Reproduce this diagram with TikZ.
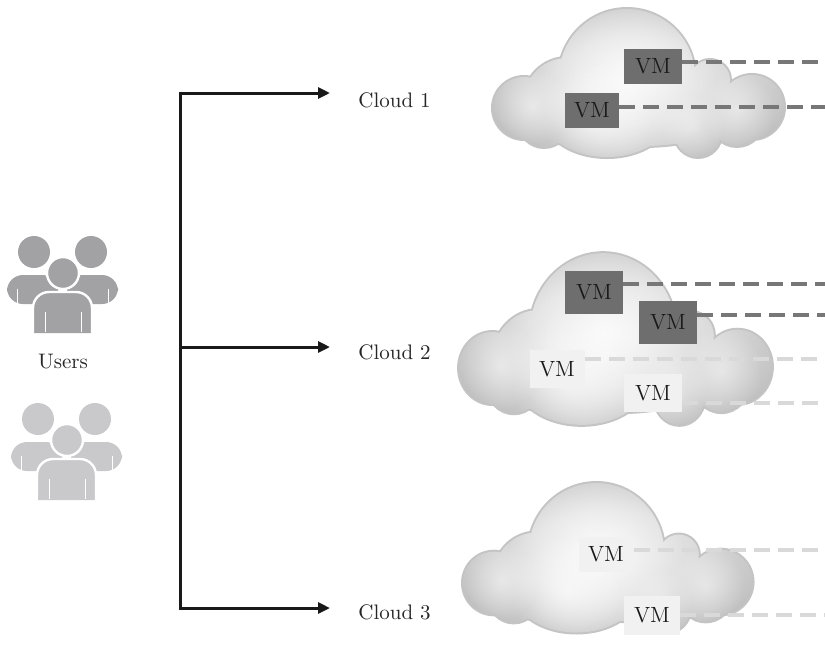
\documentclass[tikz,border=0pt]{standalone}
\usepackage{amsmath}
\usepackage{tikz}
\usetikzlibrary{arrows.meta,fadings}
\pgfdeclarelayer{background}
\pgfdeclarelayer{foreground}
\pgfsetlayers{background,main,foreground}

\definecolor{userdark}{HTML}{A2A2A4}
\definecolor{userlight}{HTML}{C9C9CB}
\definecolor{vmdark}{HTML}{6E6E6E}
\definecolor{vmlight}{HTML}{F1F1F1}
\definecolor{dashdark}{HTML}{777777}
\definecolor{dashlight}{HTML}{D9D9D9}
\definecolor{cloudrim}{HTML}{C4C4C4}

\pgfdeclareradialshading{cloudfill}{\pgfpoint{0bp}{2bp}}{color(0bp)=(gray!16); color(14bp)=(gray!26); color(26bp)=(gray!45); color(35bp)=(gray!64); color(42bp)=(gray!76); color(50bp)=(gray!80)}
\tikzfading[name=softdisc,inner color=transparent!0,outer color=transparent!100]

\newcommand{\cloudlobes}{
  (32,100) circle[radius=31]
  (75,93) circle[radius=43]
  (135,69) circle[radius=68]
  (218,72) circle[radius=20]
  (260,99) circle[radius=32]
  (52,114) circle[radius=25]
  (115,109) ellipse[x radius=62,y radius=40]
  (206,126) circle[radius=23]
  (245,112) circle[radius=26]
  (150,100) ellipse[x radius=100,y radius=38]
}

\newcommand{\cloudglow}{
  \fill[white,opacity=0.8,path fading=softdisc] (135,70) circle[radius=90];
  \fill[white,opacity=0.6,path fading=softdisc] (105,108) circle[radius=56];
  \fill[white,opacity=0.5,path fading=softdisc] (40,98) circle[radius=38];
  \fill[white,opacity=0.45,path fading=softdisc] (245,102) circle[radius=38];
  \fill[white,opacity=0.4,path fading=softdisc] (200,118) circle[radius=32];
}

\newcommand{\cloudblob}[2]{
  \begin{scope}[shift={#1},#2]
    \draw[cloudrim,line width=2pt] \cloudlobes;
    \begin{scope}
      \clip \cloudlobes;
      \shade[shading=cloudfill] (0,0) rectangle (292,152);
      \cloudglow
    \end{scope}
  \end{scope}}

\newcommand{\usergroup}[2]{
  \begin{scope}[shift={#1}]
    \fill[#2] (34,252) circle[radius=16];
    \fill[#2] (91,252) circle[radius=16];
    \fill[#2,rounded corners=8pt] (7,304) -- (7,275) -- (58,275) -- (58,304) -- cycle;
    \fill[#2,rounded corners=8pt] (67,304) -- (67,275) -- (118,275) -- (118,304) -- cycle;
    \draw[white,line width=0.5pt] (17,289) -- (17,304);
    \draw[white,line width=0.5pt] (108,289) -- (108,304);
    \filldraw[fill=#2,draw=white,line width=1.2pt,rounded corners=8pt] (33,333) -- (33,292) -- (92,292) -- (92,333);
    \filldraw[fill=#2,draw=white,line width=1.2pt] (63,273) circle[radius=16];
    \draw[white,line width=0.5pt] (45,312) -- (45,332);
    \draw[white,line width=0.5pt] (81,312) -- (81,332);
  \end{scope}}

\tikzset{
  flow/.style={line width=1.5pt,draw=black!90,-{Triangle[length=6pt,width=5.5pt]}},
  lbl/.style={font=\fontsize{10.5}{12}\selectfont,text=black!85,inner sep=0pt},
  vmd/.style={fill=vmdark,text=black!90,font=\fontsize{11}{12}\selectfont,minimum width=29pt,minimum height=17.5pt,inner sep=0pt},
  vml/.style={vmd,fill=vmlight},
  dashd/.style={draw=dashdark,line width=2pt,dash pattern=on 8pt off 4pt},
  dashl/.style={draw=dashlight,line width=2pt,dash pattern=on 8pt off 4pt}
}

\begin{document}
\begin{tikzpicture}[x=0.5pt,y=-0.5pt]
\useasboundingbox (0,0) rectangle (825,650);

\begin{pgfonlayer}{background}
\cloudblob{(492,8)}{}
\cloudblob{(458,252)}{xscale=1.075,yscale=1.16}
\cloudblob{(462,482)}{xscale=0.995,yscale=1.01}
\end{pgfonlayer}

\usergroup{(0,0)}{userdark}
\usergroup{(4,167)}{userlight}
\node[lbl] (users) at (63,362) {Users};

\coordinate (j2) at (180,347);
\coordinate (e1) at (330,93);
\coordinate (e2) at (330,347);
\coordinate (e3) at (330,608);
\coordinate (rim) at (826,0);

\draw[flow] (j2) |- (e1);
\draw[flow] (j2) -- (e2);
\draw[flow] (j2) |- (e3);

\node[lbl,anchor=west] (c1) at (358,100) {Cloud 1};
\node[lbl,anchor=west] (c2) at (358,352) {Cloud 2};
\node[lbl,anchor=west] (c3) at (358,612) {Cloud 3};

\node[vmd] (v11) at (653,66) {VM};
\node[vmd,minimum width=27pt] (v12) at (592,110) {VM};
\draw[dashd] ([yshift=2pt]v11.east) -- ([yshift=2pt]v11.east -| rim);
\draw[dashd] ([yshift=1.5pt]v12.east) -- ([yshift=1.5pt]v12.east -| rim);

\node[vmd,minimum height=21.5pt] (v21) at (594,292) {VM};
\node[vmd,minimum height=21.5pt] (v22) at (668,322) {VM};
\node[vml,minimum width=27.5pt,minimum height=19pt] (v23) at (557,369) {VM};
\node[vml,minimum height=19pt] (v24) at (653,393) {VM};
\draw[dashd] ([yshift=4pt]v21.east) -- ([yshift=4pt]v21.east -| rim);
\draw[dashd] ([yshift=3.5pt]v22.east) -- ([yshift=3.5pt]v22.east -| rim);
\draw[dashl] ([yshift=5pt]v23.east) -- ([yshift=5pt]v23.east -| rim);
\draw[dashl] ([yshift=-5pt]v24.east) -- ([yshift=-5pt]v24.east -| rim);

\node[vml,minimum width=27.5pt] (v31) at (606,554) {VM};
\node[vml,minimum width=28pt,minimum height=19.5pt] (v32) at (652,615) {VM};
\draw[dashl] ([yshift=2pt]v31.east) -- ([yshift=2pt]v31.east -| rim);
\draw[dashl] (v32.east) -- (v32.east -| rim);
\end{tikzpicture}
\end{document}
